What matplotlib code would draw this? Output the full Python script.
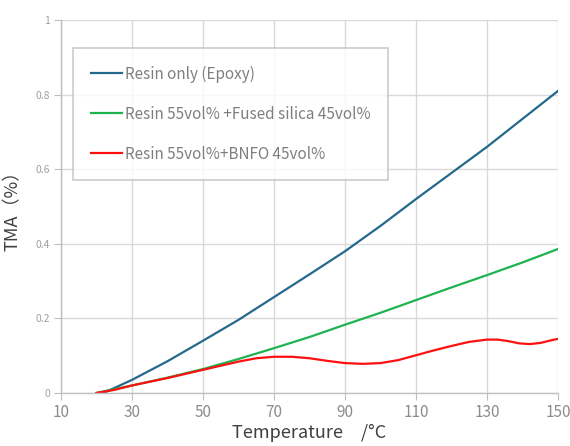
import matplotlib
matplotlib.use("Agg")
import matplotlib.pyplot as plt

# data
epoxy_t = [22, 30, 40, 50, 60, 70, 80, 90, 100, 110, 120, 130, 140, 150]
epoxy_v = [0, 0.035, 0.085, 0.14, 0.196, 0.257, 0.318, 0.38, 0.448, 0.52, 0.59, 0.66, 0.735, 0.81]

silica_t = [20, 30, 40, 50, 60, 70, 80, 90, 100, 110, 120, 130, 140, 150]
silica_v = [0, 0.02, 0.041, 0.064, 0.091, 0.12, 0.15, 0.183, 0.215, 0.249, 0.283, 0.316, 0.35, 0.386]

bnfo_t = [20, 25, 30, 35, 40, 45, 50, 55, 60, 65, 70, 75, 80, 85, 90, 95, 100,
          105, 110, 115, 120, 125, 130, 133, 136, 139, 142, 145, 148, 150]
bnfo_v = [0, 0.008, 0.02, 0.03, 0.04, 0.051, 0.062, 0.073, 0.084, 0.093, 0.097, 0.097,
          0.093, 0.086, 0.08, 0.078, 0.08, 0.088, 0.101, 0.114, 0.126, 0.137, 0.143,
          0.143, 0.139, 0.133, 0.131, 0.134, 0.141, 0.145]

labels = ["Resin only (Epoxy)",
          "Resin 55vol% +Fused silica 45vol%",
          "Resin 55vol%+BNFO 45vol%"]
colors = ["#24698C", "#1DB350", "#FF1010"]

xticks = [10, 30, 50, 70, 90, 110, 130, 150]
yticks = [0, 0.2, 0.4, 0.6, 0.8, 1]
ytick_labels = ["0", "0.2", "0.4", "0.6", "0.8", "1"]

plt.rcParams['font.family'] = ['Noto Sans CJK JP', 'DejaVu Sans']

fig = plt.figure(figsize=(5.7, 4.46), dpi=100)
ax = fig.add_axes([0.107, 0.119, 0.872, 0.836])

ax.plot(epoxy_t, epoxy_v, color=colors[0], lw=1.6, label=labels[0])
ax.plot(silica_t, silica_v, color=colors[1], lw=1.6, label=labels[1])
ax.plot(bnfo_t, bnfo_v, color=colors[2], lw=1.6, label=labels[2])

ax.set_xlim(10, 150)
ax.set_ylim(0, 1)
ax.set_xticks(xticks)
ax.set_yticks(yticks)
ax.set_yticklabels(ytick_labels)
ax.grid(True, color="#D9D9D9", lw=1.0)
ax.set_axisbelow(True)

for s in ["top", "right"]:
    ax.spines[s].set_visible(False)
for s in ["left", "bottom"]:
    ax.spines[s].set_color("#BFBFBF")
    ax.spines[s].set_linewidth(1.0)

ax.tick_params(axis="x", colors="#BFBFBF", length=5, labelsize=11, labelcolor="#8C8C8C", pad=3)
ax.tick_params(axis="y", colors="#BFBFBF", length=5, labelsize=7.5, labelcolor="#A0A0A0", pad=3)

ax.set_xlabel("Temperature　/°C", fontsize=13, color="#404040", labelpad=2)
ax.set_ylabel("TMA（%）", fontsize=13, color="#404040", labelpad=10)

leg = ax.legend(loc="upper left", bbox_to_anchor=(0.025, 0.925), fontsize=11,
                frameon=True, fancybox=False, borderpad=1.15, labelspacing=1.5,
                handlelength=2.0, handletextpad=0.2, borderaxespad=0)
leg.get_frame().set_edgecolor("#BFBFBF")
leg.get_frame().set_linewidth(1.2)
for t in leg.get_texts():
    t.set_color("#7F7F7F")

fig.savefig("out.png", dpi=100)
